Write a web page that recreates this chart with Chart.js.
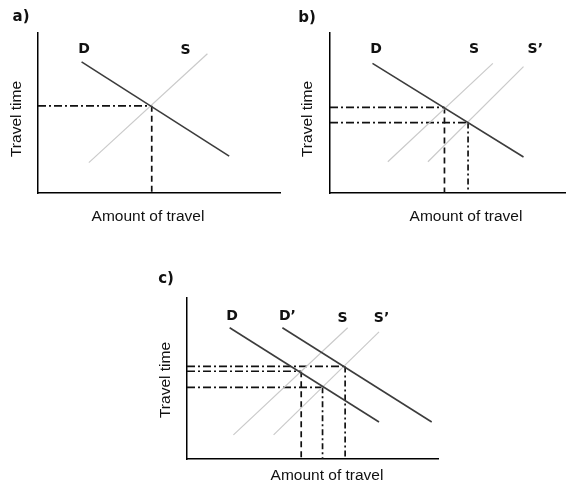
<!DOCTYPE html>
<html>
<head>
<meta charset="utf-8">
<script src="https://cdn.jsdelivr.net/npm/chart.js@4.4.1/dist/chart.umd.min.js"></script>
<style>
  body { margin: 0; background: #fff; }
  #wrap { position: relative; width: 566px; height: 491px; }
  #wrap canvas { position: absolute; left: 0; top: 0; }
</style>
</head>
<body>
<div id="wrap">
  <canvas id="chartA" width="566" height="491"></canvas>
  <canvas id="chartB" width="566" height="491"></canvas>
  <canvas id="chartC" width="566" height="491"></canvas>
</div>
<script>
// panel a: one demand, one supply curve
const demandA = [[1.8, 8.2], [7.9, 2.3]];
const supplyA = [[2.1, 1.9], [7.0, 8.7]];
const eqA = [[4.7, 5.45]];

// panel b: supply shifts to S'
const demandB = [[1.8, 8.1], [8.2, 2.25]];
const supplyB = [[2.45, 1.95], [6.9, 8.1]];
const supply2B = [[4.15, 1.95], [8.2, 7.9]];
const eqB = [[4.85, 5.35], [5.85, 4.4]];

// panel c: supply shifts to S', demand shifts to D'
const demandC = [[1.7, 8.15], [7.65, 2.3]];
const demand2C = [[3.8, 8.15], [9.75, 2.3]];
const supplyC = [[1.85, 1.5], [6.4, 8.15]];
const supply2C = [[3.45, 1.5], [7.65, 7.9]];
const eqC = [[4.55, 5.45], [5.4, 4.45], [6.3, 5.75]];

const xTitle = 'Amount of travel';
const yTitle = 'Travel time';

const toPts = arr => arr.map(([x, y]) => ({x, y}));

const dashH = [8, 3, 2, 3];
const dashV = [6, 4];
const dashDotV = [6, 3, 2, 3];

function demandSet(pts) {
  return {data: toPts(pts), borderColor: '#3c3c3c', borderWidth: 1.6};
}
function supplySet(pts) {
  return {data: toPts(pts), borderColor: '#cacaca', borderWidth: 1.2};
}
function guideSets(eq, vDashes) {
  const out = [];
  eq.forEach(([x, y], i) => {
    out.push({data: [{x: 0, y}, {x, y}], borderColor: '#111', borderWidth: 1.7, borderDash: dashH});
    out.push({data: [{x, y}, {x, y: 0}], borderColor: '#111', borderWidth: 1.7, borderDash: vDashes[i]});
  });
  return out;
}

// draws panel letter, curve names and axis titles
const figText = {
  id: 'figText',
  afterDraw(chart, args, opts) {
    const {ctx, chartArea: a, scales} = chart;
    ctx.save();
    ctx.fillStyle = '#111';
    ctx.textAlign = 'center';
    ctx.textBaseline = 'middle';
    ctx.font = 'bold 15px "DejaVu Sans", sans-serif';
    ctx.fillText(opts.letter, a.left + opts.letterAt[0], a.top + opts.letterAt[1]);
    ctx.font = 'bold 14px "DejaVu Sans", sans-serif';
    opts.names.forEach(n => {
      ctx.fillText(n.text, scales.x.getPixelForValue(n.x), scales.y.getPixelForValue(n.y));
    });
    ctx.font = '15.5px "Liberation Sans", Arial, sans-serif';
    ctx.fillText(xTitle, a.left + opts.xTitleAt[0], a.bottom + opts.xTitleAt[1]);
    ctx.translate(a.left + opts.yTitleAt[0], a.top + opts.yTitleAt[1]);
    ctx.rotate(-Math.PI / 2);
    ctx.fillText(yTitle, 0, 0);
    ctx.restore();
  }
};

function makeChart(id, datasets, padding, text) {
  datasets.forEach(d => { d.showLine = true; d.pointRadius = 0; d.fill = false; });
  return new Chart(document.getElementById(id), {
    type: 'scatter',
    data: {datasets},
    plugins: [figText],
    options: {
      responsive: false,
      animation: false,
      events: [],
      layout: {padding},
      plugins: {legend: {display: false}, tooltip: {enabled: false}, figText: text},
      scales: {
        x: {
          type: 'linear', min: 0, max: 10,
          ticks: {display: false},
          grid: {display: false, drawTicks: false},
          border: {display: true, color: '#000', width: 1.5},
          afterFit: s => { s.height = 0; }
        },
        y: {
          type: 'linear', min: 0, max: 10,
          ticks: {display: false},
          grid: {display: false, drawTicks: false},
          border: {display: true, color: '#000', width: 1.5},
          afterFit: s => { s.width = 0; }
        }
      }
    }
  });
}

makeChart('chartA',
  [demandSet(demandA), supplySet(supplyA), ...guideSets(eqA, [dashV])],
  {left: 38, top: 33, right: 286, bottom: 298},
  {letter: 'a)', letterAt: [-17, -16], xTitleAt: [110, 24], yTitleAt: [-21, 86],
   names: [{text: 'D', x: 1.9, y: 8.95}, {text: 'S', x: 6.1, y: 8.9}]});

makeChart('chartB',
  [demandSet(demandB), supplySet(supplyB), supplySet(supply2B), ...guideSets(eqB, [dashV, dashDotV])],
  {left: 330, top: 33, right: 0, bottom: 298},
  {letter: 'b)', letterAt: [-23, -15], xTitleAt: [136, 24], yTitleAt: [-22, 86],
   names: [{text: 'D', x: 1.95, y: 8.95}, {text: 'S', x: 6.1, y: 8.95}, {text: 'S\u2019', x: 8.7, y: 8.95}]});

makeChart('chartC',
  [demandSet(demandC), demandSet(demand2C), supplySet(supplyC), supplySet(supply2C),
   ...guideSets(eqC, [dashV, dashDotV, dashDotV])],
  {left: 187, top: 298, right: 128, bottom: 32},
  {letter: 'c)', letterAt: [-21, -19], xTitleAt: [140, 17], yTitleAt: [-21.5, 82],
   names: [{text: 'D', x: 1.8, y: 8.85}, {text: 'D\u2019', x: 4.0, y: 8.85}, {text: 'S', x: 6.2, y: 8.75},
           {text: 'S\u2019', x: 7.75, y: 8.75}]});
</script>
</body>
</html>
